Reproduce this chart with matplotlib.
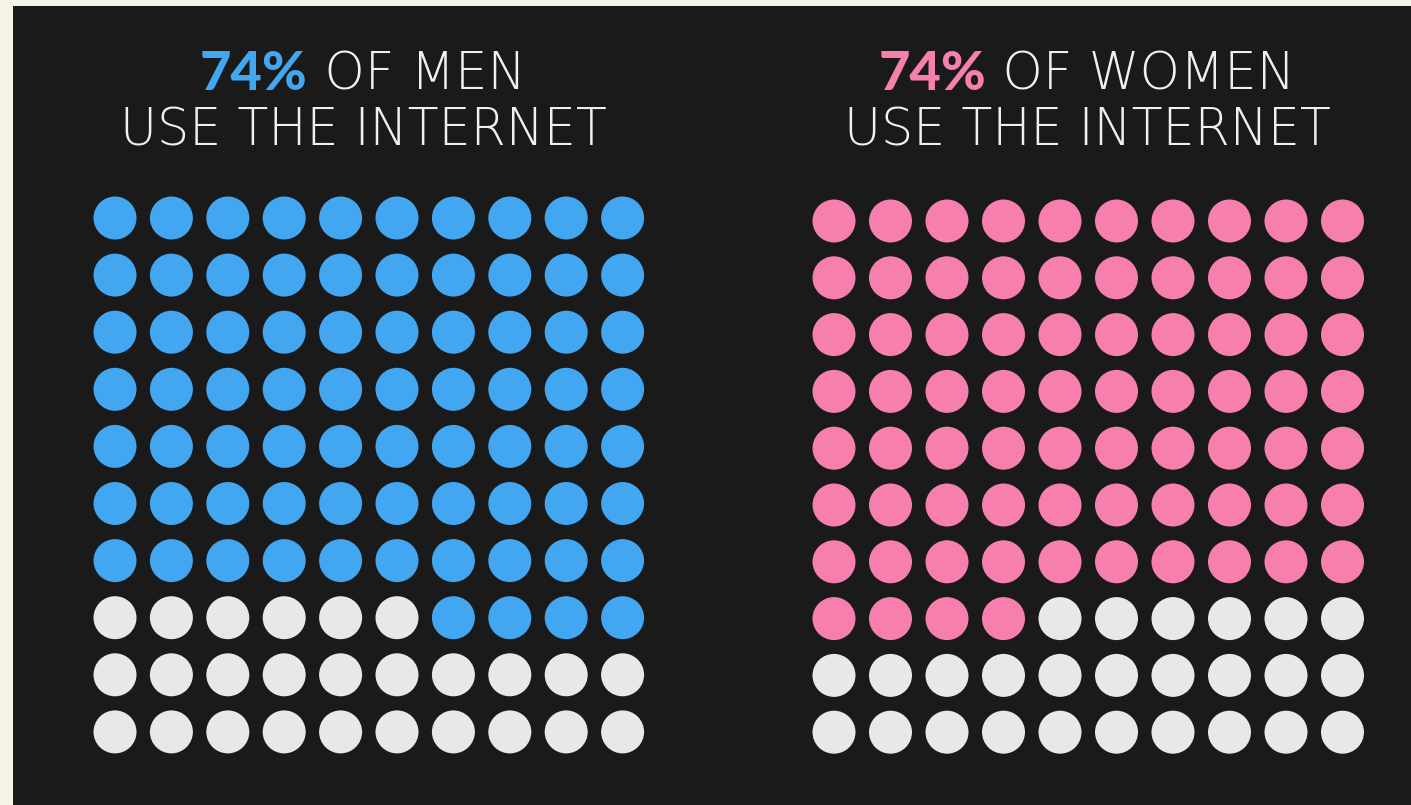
import numpy as np
import matplotlib
matplotlib.use("Agg")
import matplotlib.pyplot as plt
from matplotlib.patches import Rectangle

# data
groups = ["MEN", "WOMEN"]
share = [74, 74]              # percent using the internet
fill_side = ["right", "left"]  # where the partial row starts
colors = ["#42a6f0", "#f77fae"]
empty_color = "#e8e8e8"
bg = "#1a1a1a"
cream = "#f5f3e6"

W, H = 1411, 805
fig = plt.figure(figsize=(W / 100, H / 100), dpi=100)
fig.patch.set_facecolor(cream)
fig.add_artist(Rectangle((13 / W, 0), 1, 1 - 6 / H, transform=fig.transFigure,
                         facecolor=bg, edgecolor="none", zorder=0))

# grid placement (pixels): first centre x, first centre y, spacing x, spacing y
grids = [(115, 218, 56.4, 57.1), (834, 221, 56.5, 56.8)]
title_cx = [363, 1087]

renderer = fig.canvas.get_renderer()

for g, name in enumerate(groups):
    x0, y0, dx, dy = grids[g]
    left = x0 - dx / 2
    top = y0 - dy / 2
    ax = fig.add_axes([left / W, 1 - (top + 10 * dy) / H, 10 * dx / W, 10 * dy / H])
    ax.set_xlim(-0.5, 9.5)
    ax.set_ylim(9.5, -0.5)
    ax.axis("off")

    n = share[g]
    full_rows = n // 10
    rest = n % 10
    cols, rows = np.meshgrid(np.arange(10), np.arange(10))
    cols = cols.ravel()
    rows = rows.ravel()
    filled = rows < full_rows
    if fill_side[g] == "right":
        filled |= (rows == full_rows) & (cols >= 10 - rest)
    else:
        filled |= (rows == full_rows) & (cols < rest)
    c = np.where(filled, colors[g], empty_color)
    ax.scatter(cols, rows, s=(43 * 0.72) ** 2, c=c, linewidths=0)

    # title, line 1: bold percentage + light text
    t1 = fig.text(0, 0, f"{n}%", fontsize=39, fontweight="black", family="Lato",
                  color=colors[g], va="baseline", ha="left")
    t2 = fig.text(0, 0, f" OF {name}", fontsize=37, fontweight=200,
                  family="DejaVu Sans", color="#f0f0f0", va="baseline", ha="left")
    w1 = t1.get_window_extent(renderer).width
    w2 = t2.get_window_extent(renderer).width
    start = title_cx[g] - (w1 + w2) / 2
    base1 = 1 - 90 / H
    t1.set_position((start / W, base1))
    t2.set_position(((start + w1) / W, base1))

    fig.text(title_cx[g] / W, 1 - 146 / H, "USE THE INTERNET", fontsize=36.5,
             fontweight=200, family="DejaVu Sans", color="#f0f0f0",
             ha="center", va="baseline")

fig.savefig("out.png", dpi=100, facecolor=fig.get_facecolor())
